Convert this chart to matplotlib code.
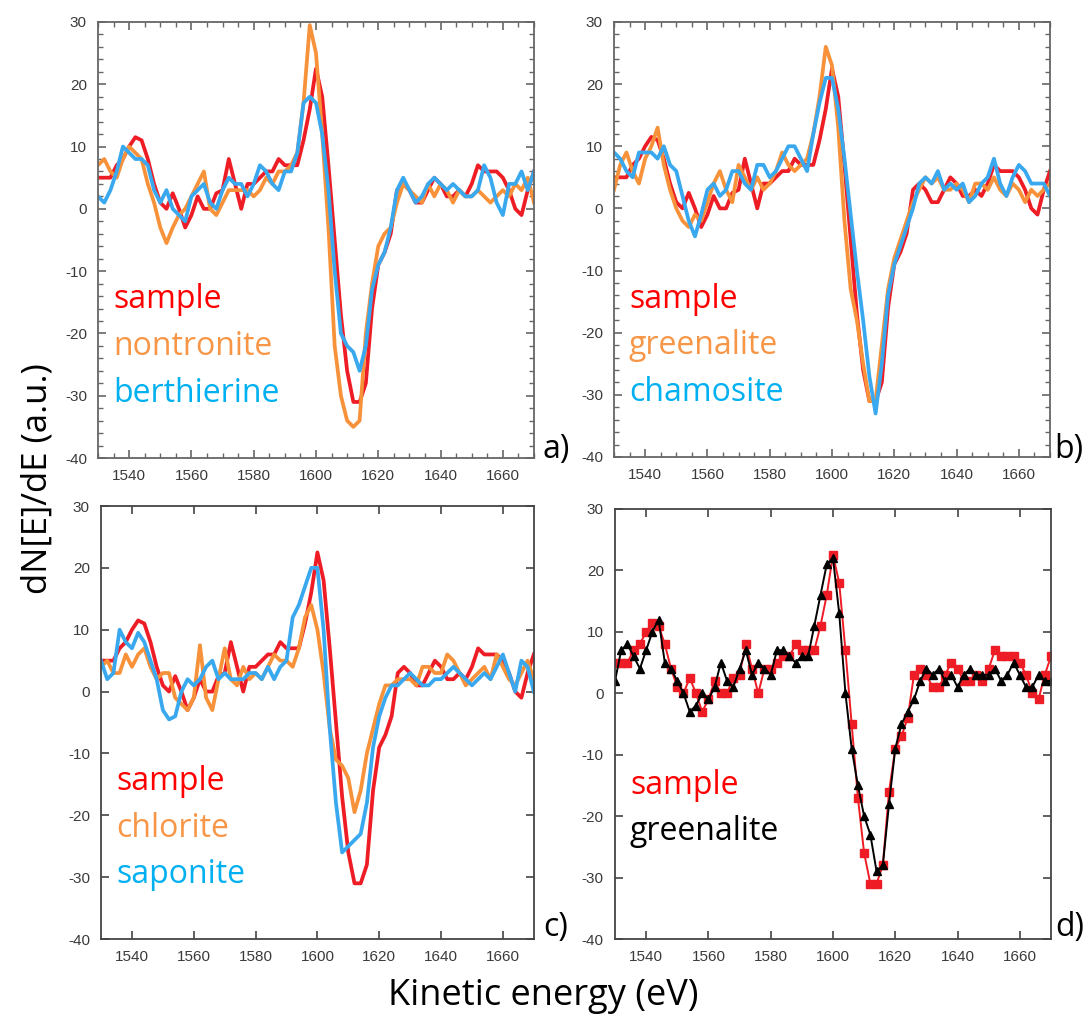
import matplotlib
matplotlib.use("Agg")
import matplotlib.pyplot as plt
from matplotlib.ticker import MultipleLocator

plt.rcParams["axes.unicode_minus"] = False

# energy grid (eV), 2 eV steps
energy = list(range(1530, 1671, 2))

# sample spectrum (same in every panel)
sample = [5, 5, 5, 7, 8, 10, 11.5, 11, 8, 4,
          1, 0, 2.5, 0, -3, -1, 2, 0, 0, 2.5,
          3, 8, 4, 0, 4, 4, 5, 6, 6, 8,
          7, 7, 7, 11, 16, 22.5, 18, 7, -5, -17,
          -26, -31, -31, -28, -16, -9, -7, -4, 3, 4,
          3, 1, 1, 3, 5, 4, 2, 2, 3, 2,
          4, 7, 6, 6, 6, 5, 3, 0, -1, 3,
          6]

# panel a
nontronite = [7, 8, 6, 5, 8, 10, 9, 8, 4, 1,
              -3, -5.5, -3, -1, 0, 2, 4, 6, 0, -1,
              1, 3, 3, 3, 3, 2, 3, 5, 4, 6,
              6, 7, 9, 17, 29.5, 25, 12, -3, -22, -30,
              -34, -35, -34, -20, -12, -6, -4, -3, 1, 4,
              3, 2, 1, 4, 2, 4, 3, 1, 3, 2,
              2, 3, 2, 1, 2, 3, 2, 4, 3, 5,
              1]
berthierine = [2, 1, 3, 6, 10, 9, 8, 8, 7, 3,
               1, 3, 0, -1, -2, 2, 3, 4, 1, 0,
               3, 5, 4, 4, 2, 4, 7, 6, 4, 3,
               6, 6, 9, 17, 18, 17, 12, 3, -10, -20,
               -22, -23, -26, -22, -13, -9, -7, -3, 3, 5,
               3, 1, 2, 4, 5, 4, 3, 4, 3, 2,
               2, 3, 7, 5, 1, -1, 4, 4, 6, 3,
               6]

# panel b
greenalite = [3, 7, 9, 6, 4, 8, 10, 13, 7, 3,
              0, -2, -3, -1, -2, 1, 4, 6, 3, 1,
              7, 5, 3, 5, 3, 4, 6, 9, 7, 6,
              7, 8, 12, 18, 26, 23, 13, -2, -13, -18,
              -25, -31, -31, -22, -13, -8, -5, -2, 1, 3,
              5, 4, 5, 3, 3, 4, 3, 1, 4, 4,
              3, 5, 3, 2, 4, 3, 1, 3, 2, 3,
              4]
chamosite = [9, 8, 6, 5, 9, 9, 9, 8, 10, 7,
             6, 2, -2, -4.5, -1, 3, 4, 2, 3, 6,
             6, 4, 3, 7, 7, 5, 6, 8, 10, 10,
             8, 6, 12, 17, 21, 21, 16, 8, -1, -10,
             -18, -27, -33, -25, -14, -9, -6, -3, 0, 4,
             5, 4, 6, 3, 4, 3, 4, 1, 2, 4,
             5, 8, 4, 2, 5, 7, 6, 4, 4, 4,
             2]

# panel c
chlorite = [4, 5, 3, 3, 6, 4, 6, 7, 4, 2,
            3, 3, -1, -2, -3, -1, 7.5, -1, -3, 2,
            7, 2, 1, 4, 2, 3, 2, 4, 6, 5,
            5, 4, 7, 12, 14, 10, 3, -6, -11, -12,
            -14, -19.5, -16, -10, -6, -2, 1, 1, 2, 2,
            2, 1, 4, 4, 3, 3, 6, 5, 3, 1,
            2, 3, 4, 2, 6, 4, 2, 1, 3, 5,
            2]
saponite = [5, 2, 3, 10, 8, 7, 9.5, 8, 5, 2,
            -3, -4.5, -4, 0, 2, 1, 2, 4, 5, 2,
            3, 2, 2, 2, 3, 3, 2, 4, 2, 4,
            5, 12, 14, 17, 20, 20, 10, -6, -18, -26,
            -25, -24, -23, -18, -9, -4, -1, 1, 1, 2,
            3, 2, 1, 1, 2, 2, 3, 4, 3, 2,
            1, 2, 3, 2, 4, 6, 3, 0, 5, 4,
            0]

# panel d
greenalite_d = [2, 7, 8, 6, 4, 7, 10, 12, 5, 4,
                2, 0, -3, -2, 0, -1, 1, 5, 2, 1,
                4, 7, 3, 5, 4, 3, 7, 7, 6, 5,
                6, 6, 11, 16, 21, 22, 13, 0, -9, -15,
                -20, -23, -29, -28, -18, -9, -5, -3, -1, 2,
                4, 3, 4, 2, 3, 1, 3, 4, 3, 3,
                3, 4, 2, 3, 5, 3, 1, 1, 3, 2,
                2]

RED = "#ee1c24"
ORANGE = "#f7923a"
BLUE = "#3aa8ee"
TXT_RED = "#ff0000"
TXT_ORANGE = "#f79646"
TXT_BLUE = "#00b0f0"

label_font = "Open Sans"

fig = plt.figure(figsize=(10.9, 10.21), dpi=100)
ax_a = fig.add_axes([0.0899, 0.5514, 0.400, 0.4271])
ax_b = fig.add_axes([0.5633, 0.5524, 0.400, 0.4261])
ax_c = fig.add_axes([0.0927, 0.0803, 0.397, 0.4241])
ax_d = fig.add_axes([0.5642, 0.0803, 0.400, 0.4212])


def style_axes(ax, minor):
    ax.set_xlim(1530, 1670)
    ax.set_ylim(-40, 30)
    ax.xaxis.set_major_locator(MultipleLocator(20))
    ax.yaxis.set_major_locator(MultipleLocator(10))
    col = "#666666" if minor else "#444444"
    for s in ax.spines.values():
        s.set_color(col)
        s.set_linewidth(1.3)
    ax.tick_params(which="major", direction="in", top=True, right=True,
                   length=6, width=1.2, color=col, labelsize=11,
                   labelcolor="#3a3a3a", pad=8)
    if minor:
        ax.xaxis.set_minor_locator(MultipleLocator(5))
        ax.yaxis.set_minor_locator(MultipleLocator(2))
        ax.tick_params(which="minor", direction="in", top=True, right=True,
                       length=3.5, width=1.0, color=col)
    for lab in ax.get_xticklabels() + ax.get_yticklabels():
        lab.set_family("Liberation Sans")


def names(ax, items, y0):
    for i, (txt, c) in enumerate(items):
        ax.text(1534.8, y0 - i * 7.5, txt, color=c, fontsize=23,
                family=label_font, va="center", ha="left")


# a)
ax_a.plot(energy, sample, color=RED, lw=2.7)
ax_a.plot(energy, nontronite, color=ORANGE, lw=2.7)
ax_a.plot(energy, berthierine, color=BLUE, lw=2.7)
style_axes(ax_a, True)
names(ax_a, [("sample", TXT_RED), ("nontronite", TXT_ORANGE),
             ("berthierine", TXT_BLUE)], -14.6)

# b)
ax_b.plot(energy, sample, color=RED, lw=2.7)
ax_b.plot(energy, greenalite, color=ORANGE, lw=2.7)
ax_b.plot(energy, chamosite, color=BLUE, lw=2.7)
style_axes(ax_b, True)
names(ax_b, [("sample", TXT_RED), ("greenalite", TXT_ORANGE),
             ("chamosite", TXT_BLUE)], -14.6)

# c)
ax_c.plot(energy, sample, color=RED, lw=2.7)
ax_c.plot(energy, chlorite, color=ORANGE, lw=2.7)
ax_c.plot(energy, saponite, color=BLUE, lw=2.7)
style_axes(ax_c, False)
names(ax_c, [("sample", TXT_RED), ("chlorite", TXT_ORANGE),
             ("saponite", TXT_BLUE)], -14.6)

# d)
ax_d.plot(energy, sample, color=RED, lw=1.4, marker="s", ms=6)
ax_d.plot(energy, greenalite_d, color="black", lw=1.4, marker="^", ms=5.5)
style_axes(ax_d, False)
names(ax_d, [("sample", TXT_RED), ("greenalite", "black")], -15)

# panel letters
for x, y, t in [(0.498, 0.560, "a)"), (0.967, 0.560, "b)"),
                (0.498, 0.092, "c)"), (0.968, 0.092, "d)")]:
    fig.text(x, y, t, fontsize=23, family=label_font, va="center", ha="left")

fig.text(0.034, 0.531, "dN[E]/dE (a.u.)", rotation=90, fontsize=25,
         family=label_font, va="center", ha="center")
fig.text(0.498, 0.024, "Kinetic energy (eV)", fontsize=26,
         family=label_font, va="center", ha="center")

fig.savefig("out.png", dpi=100)
